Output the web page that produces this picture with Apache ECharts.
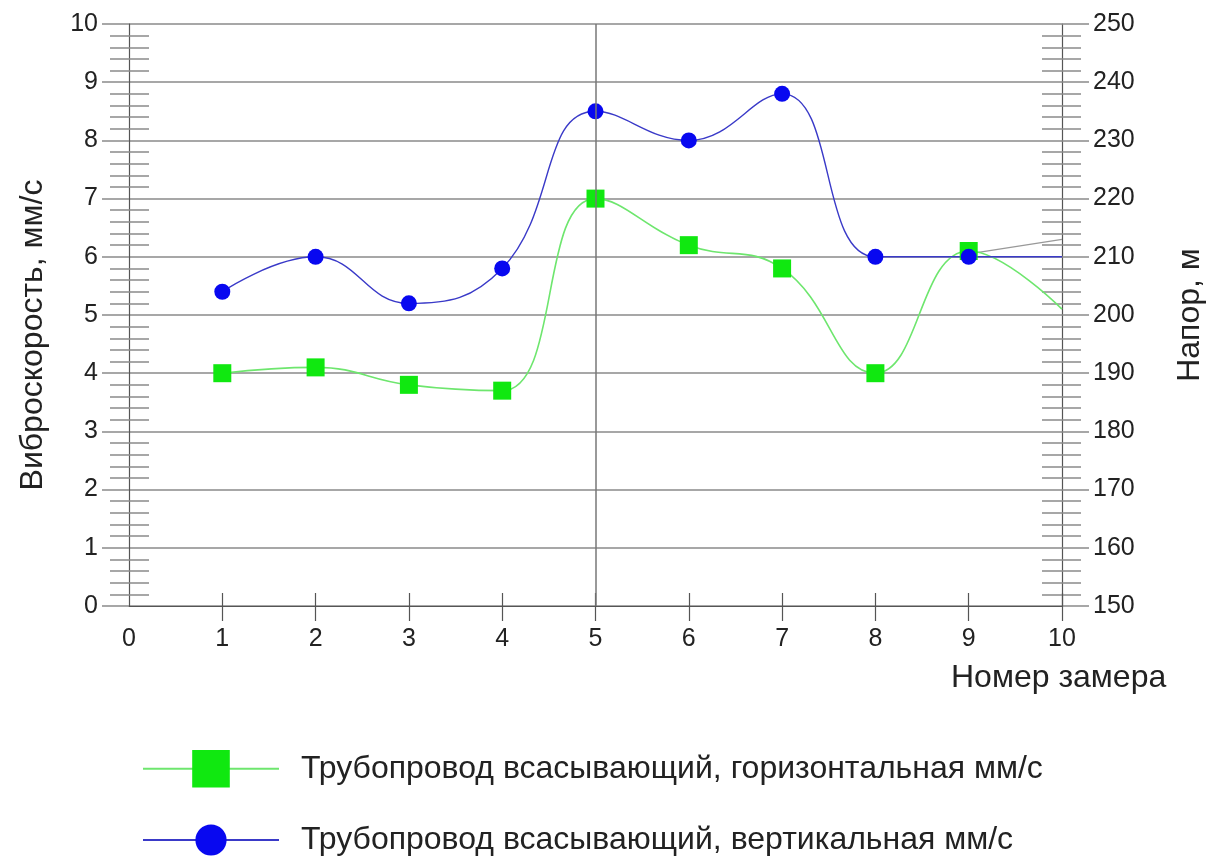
<!DOCTYPE html>
<html>
<head>
<meta charset="utf-8">
<script src="https://cdn.jsdelivr.net/npm/echarts@6/dist/echarts.min.js"></script>
<style>
  html, body { margin: 0; padding: 0; background: #fff; }
  #chart { width: 1208px; height: 857px; }
</style>
</head>
<body>
<div id="chart"></div>
<script>
var xTicks = [1, 2, 3, 4, 5, 6, 7, 8, 9, 10];
var horizX = [1, 2, 3, 4, 5, 6, 7, 8, 9, 10];
var horizVal = [4.0, 4.1, 3.8, 3.7, 7.0, 6.2, 5.8, 4.0, 6.1, 5.1];
var vertX = [1, 2, 3, 4, 5, 6, 7, 8, 9, 10];
var vertVal = [5.4, 6.0, 5.2, 5.8, 8.5, 8.0, 8.8, 6.0, 6.0, 6.0];
// grey head line (right axis), only the visible end
var headX = [9, 10];
var headVal = [210.5, 213];

var nameH = 'Трубопровод всасывающий, горизонтальная мм/с';
var nameV = 'Трубопровод всасывающий, вертикальная мм/с';

var font = "'Liberation Sans', Arial, sans-serif";
var gridCol = '#8a8a8a';
var axisCol = '#555';

// last point is drawn without a marker
function toData(xs, ys) {
    return xs.map(function (x, i) {
        var item = { value: [x, ys[i]] };
        if (i === xs.length - 1) item.symbol = 'none';
        return item;
    });
}

var chart = echarts.init(document.getElementById('chart'));

function yAxisMain(pos, min, max, step, name, gap, pad) {
    return {
        type: 'value', position: pos, min: min, max: max, interval: step,
        name: name, nameLocation: 'middle', nameGap: gap, nameRotate: 90,
        nameTextStyle: { fontSize: 32, color: '#222', fontFamily: font, padding: pad },
        axisLine: { show: true, lineStyle: { color: axisCol, width: 1.2 } },
        axisTick: { show: true, length: 27, lineStyle: { color: gridCol, width: 1.5 } },
        minorTick: { show: true, splitNumber: 5, length: 19, lineStyle: { color: gridCol, width: 1.5 } },
        axisLabel: { margin: 31, fontSize: 25, color: '#222', fontFamily: font },
        splitLine: { show: pos === 'left', lineStyle: { color: gridCol, width: 1.5 } }
    };
}
function yAxisInner(pos, min, max, step) {
    return {
        type: 'value', position: pos, min: min, max: max, interval: step,
        axisLine: { show: false },
        axisTick: { show: false, inside: true },
        minorTick: { show: true, splitNumber: 5, length: 20, lineStyle: { color: gridCol, width: 1.5 } },
        axisLabel: { show: false },
        splitLine: { show: false }
    };
}

var option = {
    backgroundColor: '#fff',
    animation: false,
    textStyle: { fontFamily: font },
    grid: { left: 129, right: 146, top: 24, bottom: 251, containLabel: false, outerBoundsMode: 'none' },
    title: {
        text: 'Номер замера', left: 946, top: 657,
        textStyle: { fontSize: 32, fontWeight: 'normal', color: '#222', fontFamily: font }
    },
    legend: [
        {
            data: [nameH], orient: 'vertical', left: 137, top: 745,
            itemWidth: 136, itemHeight: 47,
            textStyle: { fontSize: 32, color: '#222', fontFamily: font, padding: [0, 0, 0, 17] }
        },
        {
            data: [nameV], orient: 'vertical', left: 137, top: 819,
            itemWidth: 136, itemHeight: 39,
            textStyle: { fontSize: 32, color: '#222', fontFamily: font, padding: [0, 0, 0, 17] }
        }
    ],
    xAxis: [
        {
            type: 'value', min: 0, max: 10, interval: 1, position: 'bottom',
            axisLine: { show: true, lineStyle: { color: axisCol, width: 1.2 } },
            axisTick: { show: true, customValues: xTicks, length: 15, lineStyle: { color: axisCol, width: 1.2 } },
            axisLabel: { margin: 21, fontSize: 25, color: '#222', fontFamily: font },
            splitLine: { show: false }
        },
        {
            type: 'value', min: 0, max: 10, interval: 1, position: 'bottom',
            axisLine: { show: false },
            axisTick: { show: true, inside: true, customValues: xTicks, length: 13, lineStyle: { color: axisCol, width: 1.2 } },
            axisLabel: { show: false },
            splitLine: { show: false }
        }
    ],
    yAxis: [
        yAxisMain('left', 0, 10, 1, 'Виброскорость, мм/с', 80, [0, 40, 0, 0]),
        yAxisInner('left', 0, 10, 1),
        yAxisMain('right', 150, 250, 10, 'Напор, м', 112, 0),
        yAxisInner('right', 150, 250, 10)
    ],
    series: [
        {
            name: 'Напор', type: 'line', xAxisIndex: 0, yAxisIndex: 2,
            data: toData(headX, headVal), showSymbol: false, symbol: 'none',
            lineStyle: { color: '#999', width: 1.2 }, silent: true,
            markLine: {
                silent: true, symbol: ['none', 'none'], label: { show: false },
                lineStyle: { color: '#777', width: 1.5, type: 'solid' },
                data: [{ xAxis: 5 }]
            }
        },
        {
            name: nameH, type: 'line', xAxisIndex: 0, yAxisIndex: 0,
            data: toData(horizX, horizVal), smooth: 0.45,
            symbol: 'rect', symbolSize: 18,
            itemStyle: { color: '#10e810' },
            lineStyle: { color: '#6ee66e', width: 1.6 }
        },
        {
            name: nameV, type: 'line', xAxisIndex: 0, yAxisIndex: 0,
            data: toData(vertX, vertVal), smooth: 0.45,
            symbol: 'circle', symbolSize: 16,
            itemStyle: { color: '#0808f0' },
            lineStyle: { color: '#3a3ac8', width: 1.4 }
        }
    ]
};

chart.setOption(option);
</script>
</body>
</html>
